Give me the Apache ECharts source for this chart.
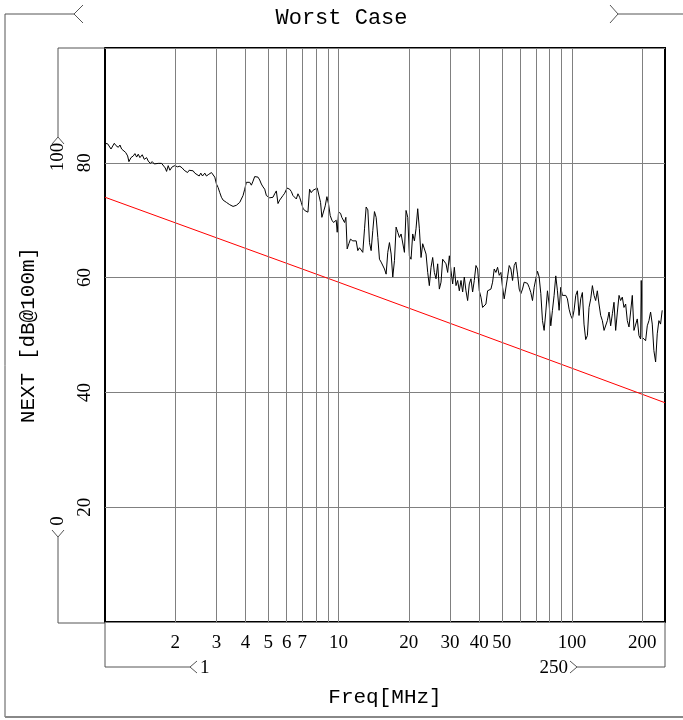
<!DOCTYPE html>
<html><head><meta charset="utf-8">
<script src="https://cdn.jsdelivr.net/npm/echarts@6/dist/echarts.min.js"></script>
<style>html,body{margin:0;padding:0;background:#fff}#c{width:683px;height:720px}</style>
</head><body><div id="c"></div><script>
// Measured NEXT trace (frequency in MHz, value in dB)
const freqMHz = [1.000,1.027,1.061,1.096,1.114,1.140,1.159,1.178,1.198,1.226,1.250,1.266,1.292,1.322,1.343,1.366,1.388,1.411,1.444,1.473,1.507,1.532,1.562,1.594,1.625,1.652,1.690,1.718,1.747,1.781,1.811,1.835,1.865,1.896,1.940,1.991,2.044,2.092,2.141,2.183,2.219,2.256,2.293,2.331,2.385,2.424,2.465,2.530,2.572,2.615,2.675,2.719,2.783,2.857,
2.952,3.001,3.050,3.101,3.152,3.204,3.257,3.311,3.365,3.421,3.477,3.535,3.593,3.653,3.713,3.775,3.837,3.901,3.965,4.031,4.098,4.165,4.234,4.304,4.375,4.448,4.522,4.597,4.673,4.750,4.829,4.909,4.989,5.072,5.156,5.241,5.328,5.416,5.505,5.597,5.689,5.783,5.879,6.016,6.176,6.278,6.381,6.486,6.594,6.703,6.813,6.925,7.041,7.157,7.276,7.396,7.516,7.641,7.768,
7.896,8.106,8.213,8.375,8.486,8.627,8.770,8.916,9.063,9.214,9.366,9.520,9.676,9.772,9.870,10.00,10.20,10.33,10.47,10.61,10.75,10.89,11.07,11.25,11.51,11.70,11.90,12.09,12.29,12.50,12.70,12.92,13.13,13.35,13.57,13.79,14.02,14.25,14.49,14.73,14.97,15.22,15.47,15.73,15.99,16.25,16.52,16.80,17.07,17.36,17.64,17.93,18.23,18.53,18.84,19.15,19.46,19.79,20.11,20.44,20.78,21.13,21.47,21.83,
22.19,22.56,22.93,23.31,23.70,24.09,24.48,24.89,25.30,25.72,26.15,26.58,27.02,27.47,27.92,28.38,28.86,29.33,29.82,30.31,30.81,31.32,31.84,32.36,32.90,33.45,34.00,34.56,35.13,35.71,36.30,36.90,37.51,38.13,38.77,39.41,40.06,40.72,41.40,42.07,42.77,43.48,44.20,44.93,45.67,46.42,47.19,47.97,48.76,49.57,50.39,51.22,52.07,52.93,53.81,54.70,55.61,56.52,57.45,58.40,59.37,60.35,61.35,
62.36,63.39,64.43,65.51,66.59,67.69,68.81,69.96,71.11,72.28,73.48,74.69,75.93,77.18,78.46,79.75,81.08,82.41,83.77,85.16,86.56,88.00,89.45,90.93,92.43,93.97,95.52,97.10,98.70,100.3,102.0,103.7,105.4,107.1,108.9,110.7,112.5,114.4,116.3,118.2,120.2,122.2,124.2,126.2,128.3,130.4,132.6,134.8,137.1,139.3,141.6,144.0,146.3,148.8,151.2,153.7,156.3,158.9,161.4,164.1,166.8,169.6,172.4,175.3,178.1,181.1,184.1,187.1,190.2,193.4,196.6,197.8,199.8,203.1,206.5,209.9,213.4,216.9,220.5,224.0,227.9,231.6,235.4,239.3,243.2];
const nextDb = [83.4,83.3,82.4,83.4,83.0,82.7,83.1,82.4,82.1,81.8,81.2,80.2,80.9,81.2,81.6,81.0,81.5,80.9,81.4,80.6,80.9,80.3,79.9,80.2,79.8,80.1,79.9,80.2,79.9,79.8,79.1,78.5,79.5,78.7,79.3,79.5,79.3,79.4,79.1,78.7,78.9,78.3,78.7,78.5,78.6,78.2,78.3,77.7,78.2,77.7,78.2,77.7,78.0,78.3,
77.5,76.3,75.7,74.8,74.0,73.5,73.4,73.1,72.9,72.7,72.5,72.4,72.4,72.6,72.9,73.1,73.4,74.3,75.4,76.6,76.7,76.6,76.1,76.8,77.6,77.7,77.5,77.0,76.3,75.8,75.4,74.3,74.6,73.9,74.1,74.0,74.6,75.1,72.9,73.5,73.4,74.3,74.7,75.6,75.4,75.0,74.3,74.1,73.7,74.6,74.0,73.1,72.1,71.7,71.5,71.4,75.4,74.8,75.2,
75.4,75.6,75.4,73.1,70.5,70.2,72.5,74.1,72.8,70.8,70.0,69.6,69.3,70.0,67.9,71.4,71.2,70.5,70.8,69.6,70.5,65.0,65.9,66.7,66.4,66.7,66.4,64.7,65.2,64.8,64.4,68.5,72.3,71.8,66.1,64.7,68.2,71.5,70.5,67.0,63.2,62.7,62.4,61.5,60.6,64.4,66.1,64.1,60.1,63.0,68.8,67.9,67.0,67.6,67.9,64.4,71.7,70.5,63.8,63.2,67.6,66.4,68.5,72.0,
68.5,63.5,65.9,66.1,64.1,60.9,58.6,61.8,63.5,60.9,59.8,62.4,58.0,59.2,63.2,63.5,62.4,60.9,63.8,61.2,58.9,61.8,58.6,59.5,57.7,59.5,57.5,60.1,57.7,56.0,58.9,59.8,57.5,59.5,62.1,61.5,57.7,56.6,54.8,55.1,55.4,57.7,57.5,58.0,59.2,61.5,60.9,61.8,60.4,60.9,58.3,56.3,56.6,60.1,62.1,61.5,59.5,62.1,62.7,60.6,58.0,57.2,58.0,
59.2,59.4,59.0,58.3,57.4,56.0,58.3,59.8,61.1,60.1,57.2,52.5,50.8,54.0,57.7,55.4,51.6,54.3,56.9,60.3,57.7,54.3,58.3,56.9,56.6,56.9,56.3,54.5,53.4,52.8,54.3,56.9,57.7,53.4,56.3,57.4,51.9,49.2,49.9,54.8,56.3,58.6,56.9,56.0,57.7,55.4,53.4,52.5,50.8,51.1,52.5,54.0,51.6,53.7,55.7,50.8,54.0,56.9,56.0,56.6,54.8,55.4,52.5,51.4,54.0,56.9,50.8,51.1,52.8,49.9,49.3,59.5,49.6,49.9,49.0,51.6,52.5,54.0,51.9,47.3,45.3,50.2,52.5,51.9,54.3];
// Limit line
const limitFreq = [1, 10, 100, 250];
const limitDb = [74.0, 59.2, 44.2, 38.2];
// Axes
const xRange = [1, 250];
const yRange = [0, 100];
const yTickLabels = [20, 40, 60, 80];
const gridFreqs = [2,3,4,5,6,7,8,9,10,20,30,40,50,60,70,80,90,100,200];
const xTickLabels = [2,3,4,5,6,7,10,20,30,40,50,100,200];

const G = {left:105, top:48, width:560, height:574};
const GR = G.left + G.width, GB = G.top + G.height;
const SERIF = '"Liberation Serif", "DejaVu Serif", serif';
const MONO = '"Liberation Mono", "DejaVu Sans Mono", monospace';
const FRAME = '#555';

function pl(points, stroke, lw){
  return {type:'polyline', silent:true, shape:{points}, style:{stroke: stroke||FRAME, lineWidth: lw||1, fill:null}};
}
function txt(x, y, text, rot, align){
  return {type:'text', silent:true, x, y, rotation: rot||0,
    style:{text, fill:'#000', font:'19px '+SERIF, align: align||'center', verticalAlign:'middle',
      textAlign: align||'center', textVerticalAlign:'middle'}};
}

const chart = echarts.init(document.getElementById('c'), null, {renderer:'canvas'});
chart.setOption({
  animation:false,
  backgroundColor:'#fff',
  title:{text:'Worst Case', left:'center', top:2,
    textStyle:{fontFamily:MONO, fontSize:22, fontWeight:'normal', color:'#000'}},
  grid:{left:G.left, top:G.top, width:G.width, height:G.height, show:true,
    borderColor:'#000', borderWidth:2, backgroundColor:'transparent', containLabel:false},
  xAxis:{type:'log', logBase:10, min:xRange[0], max:xRange[1],
    name:'Freq[MHz]', nameLocation:'middle', nameGap:65,
    nameTextStyle:{fontFamily:MONO, fontSize:21, color:'#000'},
    axisLine:{show:false}, axisTick:{show:false}, axisLabel:{show:false},
    splitLine:{show:false}, minorTick:{show:false}, minorSplitLine:{show:false}},
  yAxis:{type:'value', min:yRange[0], max:yRange[1], interval:20,
    name:'NEXT [dB@100m]', nameLocation:'middle', nameGap:66, nameRotate:90,
    nameTextStyle:{fontFamily:MONO, fontSize:21, color:'#000'},
    axisLine:{show:false}, axisTick:{show:false},
    axisLabel:{rotate:90, margin:10, fontFamily:SERIF, fontSize:19, color:'#000',
      formatter: v => yTickLabels.includes(v) ? String(v) : ''},
    splitLine:{show:true, lineStyle:{color:'#808080', width:1}}},
  series:[
    {type:'line', name:'grid', data:[], z:1, silent:true,
      markLine:{silent:true, symbol:'none', animation:false,
        lineStyle:{color:'#808080', width:1, type:'solid'},
        emphasis:{disabled:true},
        label:{show:true, position:'start', distance:12, fontFamily:SERIF, fontSize:19, color:'#000',
          formatter: p => xTickLabels.includes(p.value) ? String(p.value) : ''},
        data: gridFreqs.map(f => ({xAxis:f}))}},
    {type:'line', name:'limit', z:3, silent:true, showSymbol:false, symbol:'none',
      lineStyle:{color:'#ff0000', width:1}, itemStyle:{color:'#ff0000'},
      data: limitFreq.map((f,i)=>[f, limitDb[i]])},
    {type:'line', name:'NEXT', z:4, silent:true, showSymbol:false, symbol:'none',
      lineStyle:{color:'#000', width:1}, itemStyle:{color:'#000'},
      data: freqMHz.map((f,i)=>[f, nextDb[i]])}
  ],
  graphic:[
    // outer frame
    pl([[5,717],[5,14],[74,14]]),
    pl([[83,5],[74,14],[83,23]]),
    pl([[610,5],[618,14],[610,23]]),
    pl([[618,14],[683,14]]),
    pl([[5,717],[683,717]], '#888', 2),
    // y range bracket
    pl([[G.left,G.top],[58,G.top],[58,137]]),
    pl([[52,144],[58,137],[64,144]]),
    txt(58, 157, '100', Math.PI/2),
    txt(58, 521, '0', Math.PI/2),
    pl([[52,530],[58,537],[64,530]]),
    pl([[58,537],[58,GB+1],[G.left,GB+1]]),
    // x range bracket
    pl([[G.left,GB],[G.left,667],[190,667]]),
    pl([[197,661],[190,667],[197,673]]),
    txt(200, 668, '1', 0, 'left'),
    txt(568, 668, '250', 0, 'right'),
    pl([[570,661],[577,667],[570,673]]),
    pl([[577,667],[GR,667],[GR,GB]])
  ]
});
</script></body></html>
